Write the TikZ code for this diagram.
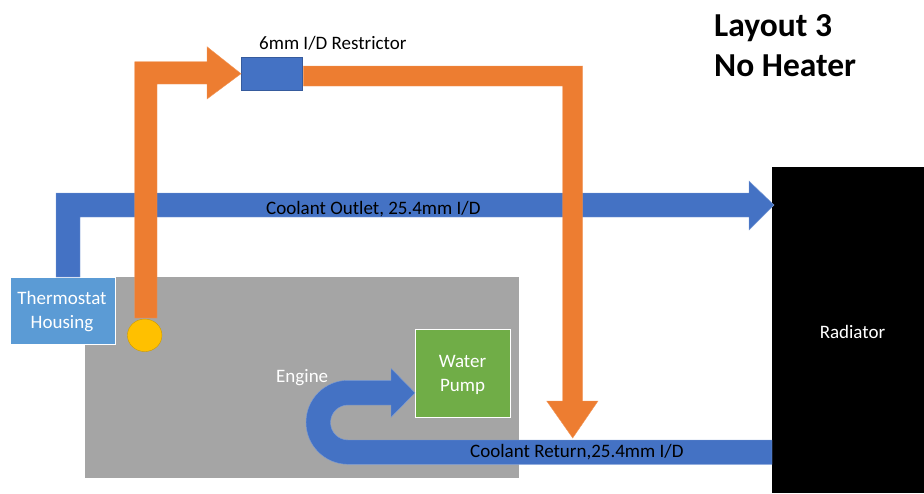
\documentclass[tikz,border=0pt]{standalone}
\usepackage{fontspec}
\usetikzlibrary{shapes.geometric}
\setmainfont{Carlito}
\definecolor{pipeblue}{HTML}{4472C4}
\definecolor{pipeorange}{HTML}{ED7D31}
\definecolor{housingblue}{HTML}{5B9BD5}
\definecolor{enginegray}{HTML}{A5A5A5}
\definecolor{pumpgreen}{HTML}{70AD47}
\definecolor{sensoryellow}{HTML}{FFC000}
\tikzset{
  label text/.style={font=\fontsize{19}{24}\selectfont, align=center, inner sep=0pt},
  white text/.style={label text, text=white},
  block/.style={draw=white, line width=0.8pt, anchor=north west, inner sep=0pt},
  blue pipe/.style={fill=pipeblue, draw=pipeblue!70!white, line width=0.4pt},
  orange pipe/.style={fill=pipeorange, draw=pipeorange!80!white, line width=0.4pt}
}
\begin{document}
\begin{tikzpicture}[x=1pt, y=-1pt]
    \useasboundingbox (0, 0) rectangle (924, 493);
    \node[anchor=north west, fill=enginegray, minimum width=434pt, minimum height=201pt, inner sep=0pt] (engine) at (85, 277) {};
    \node[anchor=north west, fill=black, minimum width=152pt, minimum height=326pt, inner sep=0pt] (radiator) at (772, 167) {};
    \node[block, fill=housingblue, minimum width=105pt, minimum height=67pt] (housing) at (10, 277) {};
    \node[block, fill=pumpgreen, minimum width=95pt, minimum height=87.5pt] (pump) at (415, 329.3) {};
    \node[anchor=north west, fill=pipeblue, draw=pipeblue!80!black, line width=0.4pt, minimum width=60.5pt, minimum height=33pt, inner sep=0pt] (restrictor) at (241, 57) {};
    \node[draw=sensoryellow!80!black, fill=sensoryellow, ellipse, minimum width=34.5pt, minimum height=32.5pt, inner sep=0pt] (sensor) at (144.7, 335.3) {};
    \coordinate (outlet tip) at (774, 205);
    \coordinate (restrictor tip) at (restrictor.west);
    \coordinate (return tip) at (572.7, 438);
    \coordinate (pump tip) at (415, 392.8);

    \draw[blue pipe] (56, 277) -- (56, 193) -- (749, 193) -- (749, 181) -- (outlet tip) -- (749, 230) -- (749, 217) -- (80, 217) -- (80, 277) -- cycle;
    \draw[blue pipe] (772, 440) -- (348, 440) arc (90:270:17.5) -- (391, 405) -- (391, 417.3) -- (pump tip) -- (391, 368.3) -- (391, 380.3) -- (348, 380.3) arc (270:90:42) -- (772, 464.3) -- cycle;
    \draw[orange pipe] (134.7, 318) -- (134.7, 61.7) -- (207, 61.7) -- (207, 46.7) -- (restrictor tip) -- (207, 99) -- (207, 84) -- (157, 84) -- (157, 318) -- cycle;
    \draw[orange pipe] (303.3, 66) -- (582.7, 66) -- (582.7, 401) -- (598, 401) -- (return tip) -- (546.7, 401) -- (562.7, 401) -- (562.7, 86) -- (303.3, 86) -- cycle;

    \node[white text] (housing label) at (62, 312) {Thermostat\\Housing};
    \node[white text] (pump label) at (462.5, 374.5) {Water\\Pump};
    \node[label text, anchor=west] (restrictor label) at (259, 43) {6mm I/D Restrictor};
    \node[label text, anchor=west] (outlet label) at (266, 209) {Coolant Outlet, 25.4mm I/D};
    \node[label text, anchor=west] (return label) at (470, 452) {Coolant Return,25.4mm I/D};
    \node[white text, anchor=west] (engine label) at (276, 378) {Engine};
    \node[white text] (radiator label) at (852.5, 332) {Radiator};
    \node[anchor=north west, inner sep=0pt, align=left, font=\fontsize{33.5}{40}\selectfont\bfseries] (title) at (714, 14) {Layout 3\\No Heater};
  \end{tikzpicture}
\end{document}
